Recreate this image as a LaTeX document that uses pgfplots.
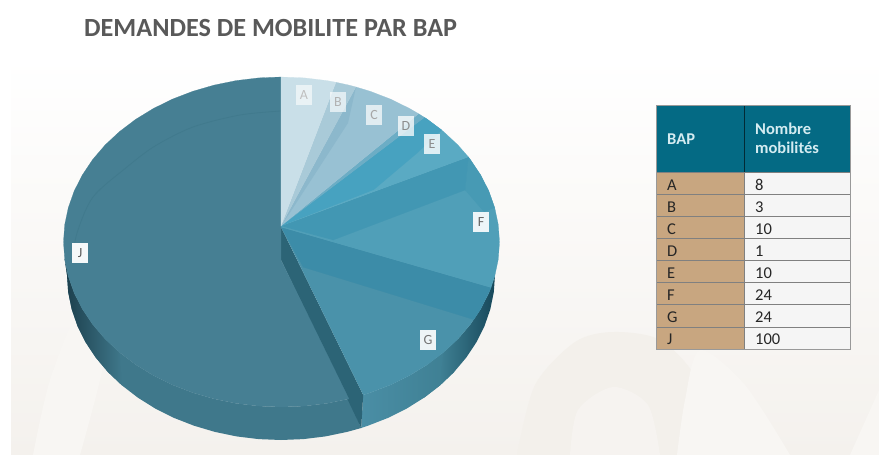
\documentclass[border=0pt]{standalone}
\usepackage{pgfplots}
\pgfplotsset{compat=1.18}
\usepackage{fontspec}
\setmainfont{Carlito}
\definecolor{cA}{HTML}{C9DFE8}
\definecolor{cB}{HTML}{A9CAD8}
\definecolor{cBand}{HTML}{8CB8CC}
\definecolor{cC}{HTML}{98C1D3}
\definecolor{cD}{HTML}{6CADC5}
\definecolor{cEd}{HTML}{47A2C0}
\definecolor{cEl}{HTML}{5AAAC3}
\definecolor{cFb}{HTML}{4297B3}
\definecolor{cF}{HTML}{509FB8}
\definecolor{cFr}{HTML}{479AB4}
\definecolor{cGb}{HTML}{3C8CA8}
\definecolor{cG}{HTML}{4A92AA}
\definecolor{cJ}{HTML}{467F93}
\definecolor{cJs}{HTML}{3F788B}
\definecolor{cJl}{HTML}{417A8D}
\definecolor{cWall}{HTML}{2C6476}
\definecolor{cHead}{HTML}{046A84}
\definecolor{cTan}{HTML}{C8A680}
\definecolor{bgB}{HTML}{F4F1ED}
\definecolor{bgD}{HTML}{F3F0EB}
\definecolor{bgI}{HTML}{F6F3F0}
\definecolor{bgL}{HTML}{F8F6F3}
\definecolor{jDark}{HTML}{1C3F4C}
\definecolor{gS1}{HTML}{4A8EA5}
\definecolor{gS2}{HTML}{3F8094}
\definecolor{gS3}{HTML}{17485A}
\definecolor{ttl}{HTML}{595959}
\definecolor{hdT}{HTML}{D5ECF1}
\tikzset{wedge/.style={fill=#1,draw=#1,line width=0.2pt,mark=none}}
\tikzset{flat/.style={fill=#1,draw=none,mark=none}}
\newcommand{\lab}[5]{\node[fill=white,fill opacity=#4,text opacity=1,text=#5,inner sep=0pt,minimum width=16pt,minimum height=20pt,font=\fontsize{14}{16}\selectfont] at (axis cs:#1,#2) {#3};}
\begin{document}
\begin{tikzpicture}
\begin{axis}[at={(0,0)},anchor=south west,width=879pt,height=455pt,scale only axis,
  xmin=0,xmax=879,ymin=0,ymax=455,y dir=reverse,axis lines=none,clip=true]
% page and background
\addplot[flat=white] coordinates {(0,0)(879,0)(879,455)(0,455)};
\addplot[draw=none,top color=white,bottom color=bgB] coordinates {(11,55)(879,55)(879,455)(11,455)};
\addplot[smooth,flat=bgD] coordinates {(517,455)(535,385)(575,342)(613,332)(660,340)(697,380)(715,455)};
\addplot[smooth,flat=bgI] coordinates {(570,455)(578,410)(613,387)(648,405)(660,455)};
\addplot[smooth,flat=bgL] coordinates {(677,455)(685,400)(700,350)(745,385)(790,455)};
\addplot[smooth,flat=bgL] coordinates {(33,455)(50,380)(80,310)(110,330)(80,455)};
\addplot[flat=bgL] coordinates {(850,455)(879,390)(879,455)};
% J side: whole side flat, its left part shaded over it
\addplot[flat=cJs] coordinates {(348.9,398.9)(326.8,403.4)(304.3,406.1)(281.5,407)(258.7,406.1)(236.2,403.4)(214.1,398.9)(192.8,392.7)(172.5,384.9)(153.4,375.5)(135.6,364.6)(119.5,352.4)(105.1,339)(92.7,324.5)(82.4,309.1)(74.2,293)(68.3,276.3)(64.7,259.2)
 (67,275)(68.2,292.2)(71.7,309.3)(77.5,326)(85.5,342.1)(95.7,357.5)(107.9,372)(122,385.4)(137.8,397.6)(155.2,408.5)(174,417.9)(194,425.7)(214.9,431.9)(236.5,436.4)(258.6,439.1)(281,440)(303.4,439.1)(325.5,436.4)(347.1,431.9)(361.2,428)};
\addplot[draw=none,left color=jDark,right color=cJs] coordinates {(119.5,352.4)(105.1,339)(92.7,324.5)(82.4,309.1)(74.2,293)(68.3,276.3)(64.7,259.2)
 (67,275)(68.2,292.2)(71.7,309.3)(77.5,326)(85.5,342.1)(95.7,357.5)(107.9,372)(122,385.4)};
% G side: flat base, then two shaded parts
\addplot[flat=gS2] coordinates {(427.4,364.6)(443.5,352.4)(457.9,339)(454.1,372)(440,385.4)(424.2,397.6)};
\addplot[draw=none,left color=gS1,right color=gS2] coordinates {(363.2,395)(370.2,392.7)(390.5,384.9)(409.6,375.5)(427.4,364.6)(443.5,352.4)
 (440,385.4)(424.2,397.6)(406.8,408.5)(388,417.9)(368,425.7)(361.2,428)};
\addplot[draw=none,left color=gS2,right color=gS3] coordinates {(443.5,352.4)(457.9,339)(470.3,324.5)(480.6,309.1)(488.8,293)(494.7,276.3)(495,275)
 (493.8,292.2)(490.3,309.3)(484.5,326)(476.5,342.1)(466.3,357.5)(454.1,372)(440,385.4)};
% wall between J and G
\addplot[flat=cWall] coordinates {(281,227)(363.2,395)(361.2,428)(281,260)};
% J top
\addplot[wedge=cJ] coordinates {(281,226)(281,77)(258.7,77.9)(236.2,80.6)(214.1,85.1)(192.8,91.3)(172.5,99.1)(153.4,108.5)(135.6,119.4)(119.5,131.6)(105.1,145)(92.7,159.5)(82.4,174.9)(74.2,191)(68.3,207.7)(64.7,224.8)(63.5,242)(64.7,259.2)(68.3,276.3)(74.2,293)(82.4,309.1)(92.7,324.5)(105.1,339)(119.5,352.4)(135.6,364.6)(153.4,375.5)(172.5,384.9)(192.8,392.7)(214.1,398.9)(236.2,403.4)(258.7,406.1)(281.5,407)(304.3,406.1)(326.8,403.4)(348.9,398.9)(281,260)};
\addplot[smooth,draw=cJl,line width=0.8pt,mark=none] coordinates {(281,111)(240,115)(193,127)(155,146)(127,167)(93,197)(77,233)(73,258)};
% G
\addplot[wedge=cG] coordinates {(281,227)(491,287.5)(488.8,293)(480.6,309.1)(470.3,324.5)(457.9,339)(443.5,352.4)(427.4,364.6)(409.6,375.5)(390.5,384.9)(370.2,392.7)(363.2,395)};
\addplot[wedge=cGb] coordinates {(281,227)(491,287.5)(480.6,309.1)(473.8,319.5)(303,267)};
% F
\addplot[wedge=cF] coordinates {(281,226)(468.4,157)(470.3,159.5)(480.6,174.9)(488.8,191)(494.7,207.7)(498.3,224.8)(499.5,242)(498.3,259.2)(494.7,276.3)(491,287.5)(281,227)};
\addplot[flat=cFr] coordinates {(468.4,157)(465,190)(484,212)(494.7,207.7)(488.8,191)(480.6,174.9)(470.3,159.5)};
\addplot[wedge=cFb] coordinates {(281,226)(468.4,157)(465,190)(333,240)};
% E
\addplot[wedge=cEl] coordinates {(281,226)(424.5,117.5)(427.4,119.4)(443.5,131.6)(457.9,145)(468.4,157)};
\addplot[wedge=cEd] coordinates {(281,226)(424.5,117.5)(427.4,119.4)(441.7,130)(416.7,153.3)(373.3,190)};
% D
\addplot[wedge=cD] coordinates {(281,226)(418.7,113.8)(424.5,117.5)};
% C
\addplot[wedge=cC] coordinates {(281,226)(356,87)(370.2,91.3)(390.5,99.1)(409.6,108.5)(418.7,113.8)};
\addplot[flat=cBand] coordinates {(281,226)(356,87)(348,123)(293,208)};
% B
\addplot[wedge=cB] coordinates {(281,226)(336,82.3)(348.9,85.1)(356,87)};
% A
\addplot[wedge=cA] coordinates {(281,226)(281,77)(304.3,77.9)(326.8,80.6)(336,82.3)};
% labels
\lab{304}{95}{A}{0.6}{black!25}
\lab{338}{102}{B}{0.65}{black!30}
\lab{374}{115}{C}{0.7}{black!35}
\lab{406}{126}{D}{0.75}{black!45}
\lab{432}{144}{E}{0.8}{black!45}
\lab{481}{222}{F}{0.9}{black!60}
\lab{428}{340}{G}{0.9}{black!55}
\lab{80}{253}{J}{0.95}{black!65}
% title
\node[anchor=west,text=ttl,font=\fontsize{26.2}{30}\selectfont\bfseries,inner sep=0pt] at (axis cs:84,28) {DEMANDES DE MOBILITE PAR BAP};
% table
\fill[cHead] (axis cs:656.7,105.7) rectangle (axis cs:850.7,172.3);
\fill[cTan] (axis cs:656.7,172.3) rectangle (axis cs:744.3,349);
\fill[white!96!black] (axis cs:744.3,172.3) rectangle (axis cs:850.7,349);
\draw[black!60!cHead,line width=0.6pt] (axis cs:744.3,105.7) -- (axis cs:744.3,172.3);
\pgfplotsinvokeforeach{172.3,194.4,216.5,238.6,260.7,282.8,304.9,327,349}{
  \draw[black!50,line width=1pt] (axis cs:656.7,#1) -- (axis cs:850.7,#1);
}
\draw[black!50,line width=0.8pt] (axis cs:744.3,172.3) -- (axis cs:744.3,349);
\draw[black!40,line width=0.7pt] (axis cs:656.7,105.7) rectangle (axis cs:850.7,349);
\tikzset{hd/.style={anchor=west,inner sep=0pt,text=hdT,font=\fontsize{16.5}{18}\selectfont\bfseries},
  ce/.style={anchor=west,inner sep=0pt,text=black!85,font=\fontsize{16.5}{18}\selectfont}}
\node[hd] at (axis cs:667,139) {BAP};
\node[hd] at (axis cs:755,129) {Nombre};
\node[hd] at (axis cs:755,148) {mobilités};
\node[ce] at (axis cs:667,185) {A}; \node[ce] at (axis cs:755,185) {8};
\node[ce] at (axis cs:667,207) {B}; \node[ce] at (axis cs:755,207) {3};
\node[ce] at (axis cs:667,229) {C}; \node[ce] at (axis cs:755,229) {10};
\node[ce] at (axis cs:667,251) {D}; \node[ce] at (axis cs:755,251) {1};
\node[ce] at (axis cs:667,273) {E}; \node[ce] at (axis cs:755,273) {10};
\node[ce] at (axis cs:667,295) {F}; \node[ce] at (axis cs:755,295) {24};
\node[ce] at (axis cs:667,317) {G}; \node[ce] at (axis cs:755,317) {24};
\node[ce] at (axis cs:667,339) {J}; \node[ce] at (axis cs:755,339) {100};
\end{axis}
\end{tikzpicture}
\end{document}
